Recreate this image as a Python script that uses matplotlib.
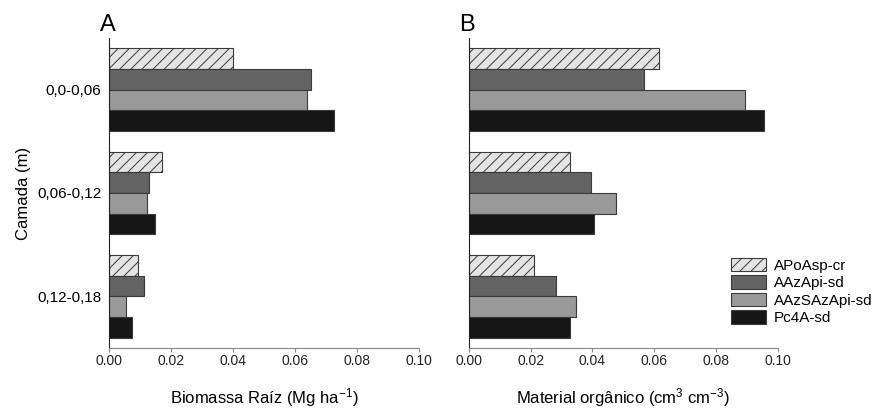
import numpy as np
import matplotlib.pyplot as plt

camadas = ['0,0-0,06', '0,06-0,12', '0,12-0,18']
sistemas = ['APoAsp-cr', 'AAzApi-sd', 'AAzSAzApi-sd', 'Pc4A-sd']

# biomassa de raiz (Mg ha-1), uma lista por sistema
bio_apoasp = [0.0400, 0.0170, 0.0091]
bio_aazapi = [0.0650, 0.0127, 0.0112]
bio_aazsazapi = [0.0638, 0.0122, 0.0052]
bio_pc4a = [0.0726, 0.0148, 0.0074]

# material organico (cm3 cm-3)
mo_apoasp = [0.0614, 0.0328, 0.0212]
mo_aazapi = [0.0566, 0.0394, 0.0283]
mo_aazsazapi = [0.0894, 0.0475, 0.0347]
mo_pc4a = [0.0954, 0.0406, 0.0327]

cores = ['#e4e4e4', '#646464', '#9a9a9a', '#161616']
hatches = ['///', None, None, None]

plt.rcParams['font.family'] = 'Liberation Sans'
plt.rcParams['mathtext.default'] = 'regular'
plt.rcParams['hatch.linewidth'] = 0.7

fig = plt.figure(figsize=(8.78, 4.08), dpi=100)
axA = fig.add_axes([0.1247, 0.147, 0.3525, 0.76])
axB = fig.add_axes([0.534, 0.147, 0.352, 0.76])

y = np.arange(len(camadas))
h = 0.2


def barras(ax, series):
    for i, vals in enumerate(series):
        ax.barh(y - 0.3 + i * h, vals, height=h, color=cores[i],
                edgecolor='#3a3a3a', linewidth=0.8, hatch=hatches[i],
                label=sistemas[i])
    ax.set_ylim(2.5, -0.5)
    ax.set_xlim(0, 0.1)
    ax.set_xticks(np.arange(0, 0.101, 0.02))
    ax.set_xticklabels(['%.2f' % v for v in np.arange(0, 0.101, 0.02)],
                       fontsize=10, color='#222222')
    ax.spines['top'].set_visible(False)
    ax.spines['right'].set_visible(False)
    ax.spines['bottom'].set_color('#888888')
    ax.spines['left'].set_color('#222222')
    ax.tick_params(axis='x', direction='out', length=3, color='#888888', pad=1)


barras(axA, [bio_apoasp, bio_aazapi, bio_aazsazapi, bio_pc4a])
barras(axB, [mo_apoasp, mo_aazapi, mo_aazsazapi, mo_pc4a])

axA.set_yticks(y)
axA.set_yticklabels(camadas, fontsize=11)
axA.tick_params(axis='y', length=0, pad=6)
axA.set_ylabel('Camada (m)', fontsize=12, labelpad=4)
axA.set_xlabel('Biomassa Raíz (Mg ha$^{-1}$)', fontsize=12, labelpad=13)

axB.set_yticks([])
axB.set_xlabel('Material orgânico (cm$^{3}$ cm$^{-3}$)', fontsize=12, labelpad=13)
axB.legend(loc='lower right', bbox_to_anchor=(1.35, 0.03), frameon=False,
           fontsize=11, handlelength=2.3, handleheight=1.0,
           labelspacing=0.15, handletextpad=0.5)

fig.text(0.114, 0.925, 'A', fontsize=17)
fig.text(0.523, 0.925, 'B', fontsize=17)

fig.savefig('out.png', dpi=100)
